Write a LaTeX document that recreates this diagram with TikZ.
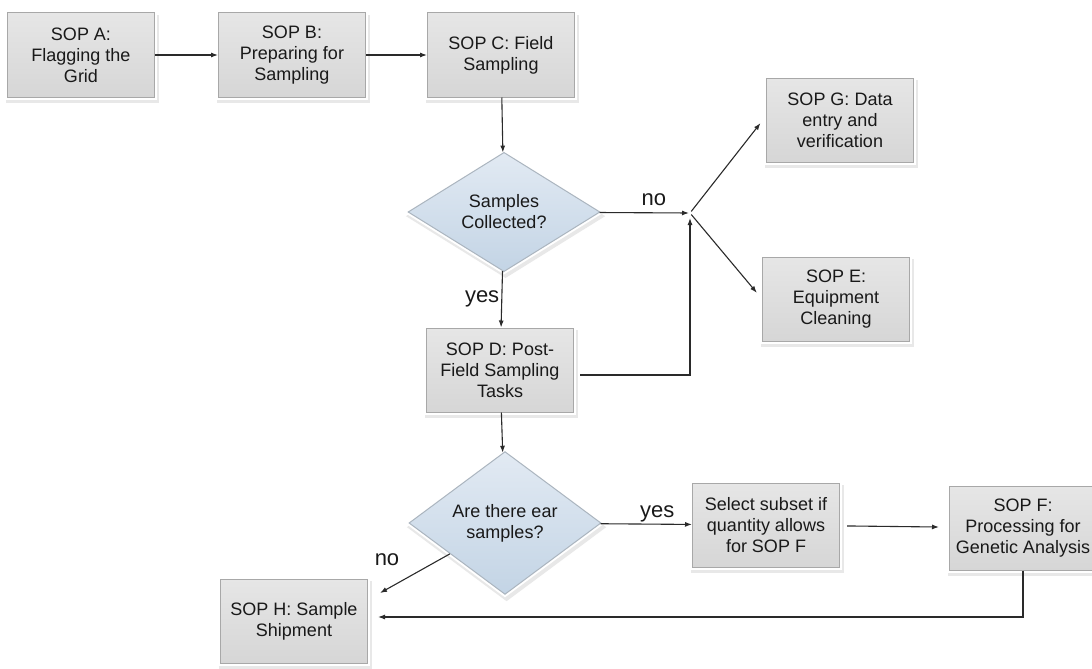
\documentclass[tikz,border=0pt]{standalone}
\usepackage{fontspec}
\setmainfont{Liberation Sans}
\usetikzlibrary{arrows.meta, shapes.geometric, shadows, positioning}
\definecolor{boxtop}{HTML}{E6E6E6}
\definecolor{boxbot}{HTML}{D6D6D6}
\definecolor{boxline}{HTML}{A8A8A8}
\definecolor{diatop}{HTML}{E2EAF3}
\definecolor{diabot}{HTML}{C3D4E5}
\definecolor{diline}{HTML}{ABB5BF}
\definecolor{flowcol}{HTML}{2A2A2A}
\begin{document}
\begin{tikzpicture}[x = 1pt, y = -1pt,
		sopbox/.style = {rectangle, minimum width = 147pt, minimum height = 84pt, inner sep = 1pt, align = center,
			top color = boxtop, bottom color = boxbot, draw = boxline, line width = 1pt, text = black!90,
			font = \fontsize{18}{21}\selectfont,
			drop shadow = {opacity = 0.18, shadow scale = 1.04, shadow xshift = 1.5pt, shadow yshift = -4pt},
			preaction = {draw = white, line width = 5pt}},
		decision/.style = {diamond, minimum width = 192pt, minimum height = 113pt, inner sep = 0pt, align = center,
			top color = diatop, bottom color = diabot, draw = diline, line width = 1pt, text = black!90,
			font = \fontsize{18}{21}\selectfont,
			drop shadow = {opacity = 0.18, shadow scale = 1.04, shadow xshift = 1.5pt, shadow yshift = -4pt},
			preaction = {draw = white, line width = 5pt}},
		flow/.style = {draw = flowcol, line width = 1.1pt, -{Latex[length = 7pt, width = 5pt]}},
		answer/.style = {font = \fontsize{22}{26}\selectfont, text = black!90, inner sep = 2pt}]
		\useasboundingbox (0, 0) rectangle (1092, 669);
		% process boxes
		\foreach \name/\x/\y/\txt in {A/81/55/{SOP A:\\Flagging the\\Grid}, B/292/55/{SOP B:\\Preparing for\\Sampling},
			C/501/55/{SOP C: Field\\Sampling}, D/500/370/{SOP D: Post-\\Field Sampling\\Tasks},
			G/840/120/{SOP G: Data\\entry and\\verification}, E/836/299/{SOP E:\\Equipment\\Cleaning},
			S/766/525/{Select subset if\\quantity allows\\for SOP F}, F/1023/528/{SOP F:\\Processing for\\Genetic Analysis},
			H/294/621/{SOP H: Sample\\Shipment}}{
			\node[sopbox] (\name) at (\x, \y) {\txt};}
		% decisions
		\node[decision] (dia1) at (504, 212) {Samples\\Collected?};
		\node[decision] (dia2) at (505, 523) {Are there ear\\samples?};
		\coordinate (jn) at (690, 213);
		\coordinate (hno) at (380, 593);
		% connectors
		\draw[flow] (A) -- (B);
		\draw[flow] (B) -- (C);
		\draw[flow] (C) -- (dia1);
		\draw[flow] (dia1) -- node[answer, left] {yes} (D);
		\draw[flow, shorten > = 1pt] (dia1) -- node[answer, pos = 0.6, above = 5pt] {no} (jn);
		\draw[flow, shorten < = 6pt, shorten > = 5pt] ([yshift = -5pt]D.east) -| (jn);
		\draw[flow, shorten < = 2pt, shorten > = 9pt] (jn) -- ([yshift = 4pt]G.west);
		\draw[flow, shorten < = 2pt, shorten > = 8pt] (jn) -- (E.west);
		\draw[flow] (D) -- (dia2);
		\draw[flow] (dia2) -- node[answer, pos = 0.62, above] {yes} (S);
		\draw[flow, shorten < = 7pt, shorten > = 10pt] (S) -- (F);
		\draw[flow, shorten > = 10pt] (F) |- ([yshift = 4pt]H.east);
		\draw[flow] (dia2) -- node[answer, pos = 0.9, above = 21pt] {no} (hno);
\end{tikzpicture}
\end{document}
